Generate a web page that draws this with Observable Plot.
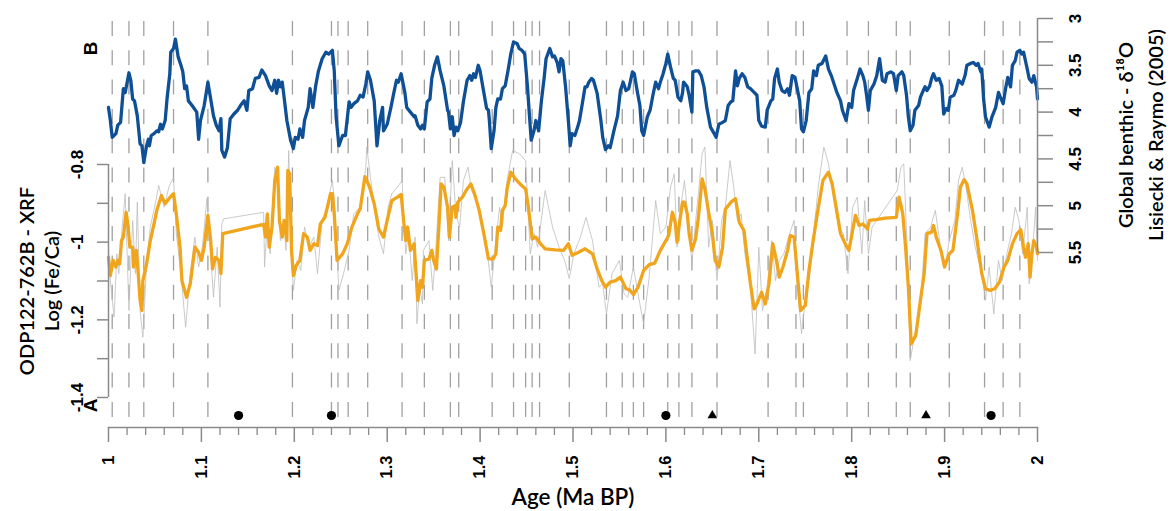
<!DOCTYPE html>
<html><head><meta charset="utf-8">
<script src="https://cdn.jsdelivr.net/npm/d3@7"></script>
<script src="https://cdn.jsdelivr.net/npm/@observablehq/plot@0.6"></script>
<style>
html,body{margin:0;padding:0;background:#fff;}
#chart{position:relative;width:1172px;height:511px;overflow:hidden;}
#chart svg{position:absolute;left:0;top:0;}
</style></head><body><div id="chart"></div>
<script>
// ---------- scales / ticks ----------
const xDomain = [1, 2];
const feDomain = [-1.4, -0.8];
const d18Domain = [3, 5.5];
const xMajorTicks = [1, 1.1, 1.2, 1.3, 1.4, 1.5, 1.6, 1.7, 1.8, 1.9, 2];
const xMajorLabels = ["1", "1.1", "1.2", "1.3", "1.4", "1.5", "1.6", "1.7", "1.8", "1.9", "2"];
const xMinorTicks = [1.02,1.04,1.06,1.08,1.12,1.14,1.16,1.18,1.22,1.24,1.26,1.28,1.32,1.34,1.36,1.38,1.42,1.44,1.46,1.48,1.52,1.54,1.56,1.58,1.62,1.64,1.66,1.68,1.72,1.74,1.76,1.78,1.82,1.84,1.86,1.88,1.92,1.94,1.96,1.98];
const feTicks = [-1.4, -1.3, -1.2, -1.1, -1, -0.9, -0.8];
const feTickLabels = ["-1.4", "", "-1.2", "", "-1", "", "-0.8"];
const d18Ticks = [3, 3.25, 3.5, 3.75, 4, 4.25, 4.5, 4.75, 5, 5.25, 5.5];
const d18TickLabels = ["3", "", "3.5", "", "4", "", "4.5", "", "5", "", "5.5"];

// ---------- annotations ----------
const dashedAges = [1.004,1.022,1.038,1.070,1.107,1.198,1.240,1.247,1.258,1.279,1.316,1.340,1.368,1.377,1.413,1.436,1.449,1.456,1.464,1.496,1.536,1.553,1.565,1.576,1.602,1.614,1.628,1.655,1.710,1.740,1.748,1.795,1.818,1.848,1.863,1.905,1.943,1.963,1.981];
const circleAges = [1.14, 1.24, 1.60, 1.95];
const triangleAges = [1.65, 1.88];

// ---------- B: LR04 benthic d18O ----------
const blueAge = [1.000,1.002,1.004,1.008,1.010,1.013,1.016,1.018,1.022,1.024,1.026,1.028,1.031,1.034,1.036,1.038,1.041,1.043,1.044,1.046,1.049,1.052,1.054,1.056,1.058,1.061,1.063,1.066,1.067,1.070,1.072,1.075,1.078,1.080,1.082,1.084,1.086,1.090,1.095,1.097,1.099,1.103,1.107,1.110,1.113,1.116,1.119,1.121,1.122,1.125,1.128,1.131,1.135,1.139,1.142,1.146,1.149,1.151,1.155,1.158,1.162,1.165,1.169,1.173,1.176,1.179,1.181,1.183,1.185,1.187,1.189,1.192,1.196,1.199,1.201,1.204,1.206,1.209,1.211,1.215,1.217,1.220,1.223,1.226,1.230,1.234,1.237,1.241,1.243,1.245,1.248,1.252,1.255,1.259,1.261,1.264,1.268,1.271,1.274,1.277,1.279,1.282,1.286,1.289,1.292,1.295,1.296,1.300,1.304,1.307,1.310,1.312,1.315,1.319,1.321,1.325,1.329,1.330,1.333,1.336,1.338,1.340,1.343,1.346,1.348,1.351,1.354,1.357,1.361,1.365,1.366,1.368,1.370,1.372,1.374,1.376,1.379,1.382,1.386,1.389,1.391,1.393,1.395,1.398,1.400,1.404,1.407,1.409,1.410,1.412,1.415,1.417,1.419,1.422,1.424,1.427,1.430,1.433,1.436,1.440,1.442,1.445,1.448,1.451,1.453,1.455,1.458,1.460,1.463,1.466,1.469,1.471,1.475,1.478,1.480,1.483,1.485,1.487,1.489,1.492,1.495,1.497,1.499,1.502,1.505,1.507,1.510,1.513,1.515,1.517,1.520,1.522,1.526,1.530,1.532,1.535,1.538,1.540,1.544,1.548,1.551,1.554,1.557,1.560,1.564,1.566,1.569,1.572,1.574,1.576,1.580,1.583,1.586,1.589,1.592,1.594,1.597,1.600,1.602,1.605,1.608,1.610,1.613,1.616,1.618,1.619,1.623,1.625,1.628,1.629,1.632,1.635,1.638,1.641,1.644,1.648,1.652,1.654,1.657,1.661,1.664,1.667,1.670,1.672,1.675,1.677,1.679,1.682,1.685,1.688,1.691,1.695,1.698,1.700,1.703,1.707,1.709,1.713,1.715,1.717,1.720,1.722,1.725,1.728,1.731,1.733,1.736,1.739,1.741,1.744,1.746,1.748,1.751,1.754,1.757,1.759,1.762,1.764,1.768,1.772,1.775,1.778,1.782,1.784,1.788,1.790,1.794,1.797,1.800,1.802,1.806,1.809,1.812,1.814,1.816,1.818,1.820,1.824,1.827,1.830,1.833,1.836,1.838,1.842,1.845,1.848,1.850,1.854,1.856,1.859,1.861,1.863,1.866,1.868,1.872,1.874,1.877,1.879,1.881,1.884,1.886,1.888,1.891,1.894,1.897,1.899,1.902,1.904,1.906,1.910,1.912,1.915,1.919,1.922,1.924,1.928,1.931,1.934,1.936,1.939,1.940,1.942,1.944,1.948,1.951,1.955,1.958,1.960,1.963,1.966,1.968,1.971,1.973,1.976,1.978,1.981,1.983,1.985,1.989,1.991,1.994,1.996,1.999,2.000];
const blueD18 = [3.95,4.09,4.27,4.23,4.14,4.11,3.75,3.79,3.58,3.66,3.86,3.88,4.04,4.34,4.36,4.54,4.36,4.29,4.36,4.25,4.23,4.20,4.21,4.13,4.18,4.09,3.86,3.59,3.36,3.32,3.22,3.41,3.50,3.57,3.75,3.72,3.88,3.93,4.00,4.29,4.09,3.93,3.68,3.86,4.04,4.14,4.20,4.07,4.41,4.48,4.38,4.07,4.02,3.98,3.93,3.88,3.98,3.77,3.75,3.64,3.63,3.55,3.61,3.72,3.77,3.66,3.80,3.66,3.73,3.68,3.84,4.09,4.30,4.39,4.27,4.29,4.18,4.27,4.09,3.95,3.75,3.95,3.72,3.56,3.43,3.36,3.38,3.34,3.56,4.05,4.36,4.25,4.25,3.89,3.95,3.91,3.88,3.82,3.84,3.70,3.57,3.66,3.88,4.36,4.09,3.95,4.20,4.13,3.95,3.80,3.66,3.68,3.59,3.79,3.95,4.00,4.05,4.04,4.14,4.18,4.14,4.18,3.89,3.86,3.64,3.50,3.41,3.56,3.72,3.98,4.00,4.18,4.05,4.25,4.16,4.20,4.11,3.89,3.66,3.61,3.66,3.59,3.63,3.50,3.56,3.79,3.96,3.98,4.09,4.39,4.20,3.95,3.86,3.86,3.75,3.72,3.56,3.38,3.25,3.27,3.32,3.34,3.38,3.73,4.02,4.30,4.20,4.09,4.20,3.88,3.63,3.43,3.32,3.41,3.40,3.47,3.57,3.43,3.45,3.73,4.09,4.36,4.23,4.25,4.16,4.09,3.91,3.73,3.73,3.68,3.64,3.66,3.80,4.09,4.27,4.40,4.36,4.38,4.20,4.04,3.77,3.68,3.77,3.75,3.57,3.59,3.77,3.93,4.20,4.25,4.05,3.98,3.82,3.68,3.75,3.68,3.59,3.48,3.38,3.52,3.64,3.66,3.84,3.88,3.79,3.68,3.73,3.82,4.00,3.57,3.56,3.56,3.61,3.73,3.95,4.16,4.23,4.27,4.13,4.11,4.09,3.93,3.89,3.88,3.56,3.72,3.64,3.59,3.63,3.73,3.75,3.79,3.82,4.09,4.15,4.16,3.98,3.88,3.86,3.64,3.54,3.68,3.77,3.79,3.75,3.82,3.61,3.63,3.73,3.88,4.18,4.21,4.09,3.79,3.75,3.56,3.61,3.50,3.48,3.40,3.54,3.61,3.73,3.79,3.88,3.98,4.09,3.91,3.95,3.77,3.64,3.54,3.61,3.68,3.82,3.98,3.77,3.70,3.61,3.43,3.66,3.68,3.59,3.57,3.59,3.77,3.61,3.57,3.61,3.82,4.05,4.20,4.14,3.98,3.93,3.84,3.77,3.73,3.77,3.72,3.64,3.59,3.66,3.64,3.72,4.02,3.96,3.98,3.84,3.82,3.77,3.66,3.70,3.61,3.50,3.48,3.47,3.50,3.48,3.57,3.54,3.86,4.05,4.16,4.05,3.95,3.79,3.84,3.91,3.73,3.63,3.73,3.50,3.45,3.36,3.34,3.38,3.36,3.54,3.64,3.68,3.61,3.73,3.86];

// ---------- A: ODP 762B Log(Fe/Ca), smoothed ----------
const smoothAge = [1.000,1.002,1.005,1.008,1.010,1.012,1.014,1.016,1.019,1.021,1.023,1.026,1.027,1.030,1.032,1.034,1.036,1.037,1.041,1.045,1.049,1.052,1.057,1.061,1.065,1.070,1.073,1.077,1.079,1.084,1.088,1.093,1.097,1.100,1.103,1.107,1.110,1.112,1.115,1.119,1.121,1.123,1.167,1.169,1.171,1.173,1.176,1.179,1.182,1.184,1.187,1.189,1.192,1.193,1.195,1.197,1.199,1.202,1.206,1.210,1.214,1.217,1.221,1.225,1.228,1.233,1.236,1.239,1.241,1.243,1.246,1.252,1.257,1.262,1.268,1.271,1.276,1.281,1.286,1.291,1.296,1.300,1.305,1.311,1.315,1.318,1.320,1.322,1.325,1.329,1.330,1.333,1.336,1.338,1.340,1.345,1.348,1.350,1.353,1.356,1.358,1.361,1.365,1.367,1.370,1.373,1.374,1.376,1.381,1.385,1.390,1.394,1.399,1.404,1.409,1.414,1.417,1.419,1.422,1.424,1.427,1.429,1.433,1.438,1.443,1.449,1.452,1.456,1.460,1.465,1.470,1.481,1.490,1.495,1.499,1.506,1.513,1.521,1.526,1.531,1.535,1.540,1.546,1.551,1.557,1.561,1.565,1.570,1.576,1.582,1.588,1.594,1.600,1.603,1.607,1.610,1.612,1.615,1.618,1.620,1.623,1.625,1.628,1.632,1.635,1.639,1.642,1.646,1.650,1.653,1.657,1.661,1.664,1.670,1.675,1.679,1.684,1.687,1.691,1.695,1.698,1.703,1.707,1.711,1.715,1.719,1.722,1.726,1.731,1.734,1.738,1.741,1.745,1.750,1.754,1.758,1.763,1.769,1.775,1.779,1.782,1.788,1.793,1.797,1.801,1.804,1.808,1.812,1.817,1.819,1.826,1.836,1.848,1.851,1.855,1.858,1.861,1.864,1.869,1.873,1.878,1.881,1.886,1.888,1.891,1.896,1.900,1.905,1.909,1.914,1.917,1.921,1.924,1.930,1.935,1.940,1.944,1.949,1.954,1.959,1.964,1.968,1.973,1.978,1.982,1.985,1.987,1.990,1.992,1.994,1.996,1.999,2.000];
const smoothFe = [-1.039,-1.086,-1.047,-1.064,-1.047,-1.056,-0.996,-0.987,-0.923,-0.957,-1.013,-1.013,-1.064,-1.021,-1.081,-1.150,-1.176,-1.099,-1.056,-0.996,-0.953,-0.918,-0.880,-0.901,-0.888,-0.875,-0.927,-1.013,-1.099,-1.142,-1.107,-1.013,-1.026,-1.047,-1.013,-0.931,-0.996,-1.069,-1.039,-1.047,-1.081,-0.978,-0.954,-0.987,-0.927,-1.013,-0.961,-0.841,-0.807,-0.944,-0.987,-0.944,-0.996,-0.815,-0.824,-1.021,-1.086,-1.060,-1.047,-0.978,-0.987,-1.021,-1.004,-1.009,-0.953,-0.936,-0.906,-0.875,-0.875,-0.927,-1.047,-1.030,-1.004,-0.961,-0.927,-0.914,-0.831,-0.858,-0.901,-0.966,-0.987,-0.944,-0.893,-0.884,-0.877,-0.953,-0.996,-0.961,-1.021,-1.004,-1.043,-1.150,-1.099,-1.116,-1.047,-1.043,-1.021,-1.047,-1.069,-0.944,-0.850,-0.858,-0.910,-0.987,-0.910,-0.906,-0.936,-0.897,-0.884,-0.867,-0.850,-0.875,-0.918,-0.978,-1.043,-1.043,-1.030,-0.961,-0.970,-0.918,-0.906,-0.863,-0.820,-0.837,-0.850,-0.863,-0.910,-0.991,-0.987,-1.004,-1.017,-1.020,-1.021,-1.004,-1.034,-1.026,-1.017,-1.030,-1.069,-1.099,-1.116,-1.103,-1.099,-1.090,-1.120,-1.123,-1.135,-1.116,-1.073,-1.058,-1.054,-1.021,-0.996,-0.983,-0.923,-0.949,-1.000,-0.944,-0.897,-0.897,-0.927,-0.978,-1.021,-0.991,-0.936,-0.837,-0.863,-0.923,-0.978,-1.047,-1.064,-1.013,-0.915,-0.897,-0.888,-0.949,-0.970,-1.030,-1.107,-1.172,-1.159,-1.129,-1.159,-1.107,-1.004,-1.047,-1.090,-1.064,-1.021,-0.983,-0.987,-1.069,-1.176,-1.163,-1.073,-1.004,-0.927,-0.841,-0.820,-0.850,-0.893,-0.978,-1.004,-1.021,-0.970,-0.931,-0.957,-0.953,-0.966,-0.944,-0.942,-0.938,-0.936,-0.884,-0.927,-1.013,-1.116,-1.262,-1.240,-1.167,-1.081,-0.978,-0.974,-0.957,-0.987,-1.021,-1.064,-1.030,-1.021,-0.927,-0.858,-0.839,-0.850,-0.918,-0.996,-1.081,-1.120,-1.124,-1.120,-1.103,-1.064,-1.047,-1.004,-0.978,-0.968,-1.013,-1.039,-1.004,-1.090,-1.030,-0.996,-1.013,-1.030];

// ---------- A: ODP 762B Log(Fe/Ca), raw ----------
const rawAge = [1.000,1.002,1.006,1.009,1.011,1.015,1.018,1.022,1.026,1.029,1.031,1.034,1.037,1.041,1.045,1.051,1.054,1.060,1.065,1.070,1.073,1.078,1.083,1.088,1.093,1.097,1.101,1.106,1.110,1.113,1.117,1.120,1.122,1.124,1.167,1.168,1.171,1.174,1.179,1.182,1.185,1.189,1.191,1.194,1.197,1.199,1.203,1.207,1.211,1.216,1.221,1.225,1.230,1.235,1.241,1.243,1.248,1.253,1.259,1.264,1.271,1.277,1.278,1.282,1.286,1.291,1.296,1.301,1.305,1.311,1.316,1.320,1.323,1.327,1.330,1.332,1.335,1.338,1.339,1.345,1.349,1.352,1.357,1.362,1.366,1.370,1.374,1.378,1.382,1.387,1.391,1.397,1.402,1.408,1.412,1.417,1.421,1.424,1.429,1.435,1.442,1.449,1.454,1.458,1.462,1.470,1.478,1.485,1.491,1.496,1.501,1.508,1.514,1.521,1.528,1.532,1.536,1.542,1.550,1.555,1.559,1.565,1.570,1.576,1.582,1.589,1.594,1.600,1.605,1.609,1.612,1.616,1.620,1.624,1.628,1.632,1.635,1.639,1.642,1.646,1.650,1.655,1.660,1.664,1.669,1.673,1.677,1.681,1.685,1.691,1.696,1.700,1.704,1.709,1.714,1.718,1.722,1.727,1.732,1.738,1.741,1.746,1.750,1.755,1.759,1.764,1.770,1.775,1.780,1.786,1.791,1.796,1.801,1.806,1.811,1.814,1.818,1.822,1.849,1.853,1.856,1.860,1.863,1.868,1.874,1.879,1.885,1.890,1.896,1.901,1.905,1.911,1.915,1.919,1.923,1.928,1.933,1.940,1.944,1.948,1.953,1.958,1.962,1.967,1.972,1.976,1.980,1.984,1.989,1.991,1.995,1.998,2.000];
const rawFe = [-1.021,-1.099,-1.193,-1.030,-1.081,-0.953,-0.875,-1.176,-0.944,-1.081,-0.897,-1.176,-1.245,-1.056,-0.961,-0.893,-0.854,-0.910,-0.858,-0.833,-0.978,-1.081,-1.219,-1.081,-0.987,-1.064,-1.013,-0.888,-1.030,-1.142,-1.013,-1.167,-0.953,-0.940,-0.923,-1.064,-0.944,-1.030,-0.807,-0.833,-0.996,-0.944,-1.021,-0.764,-1.030,-1.124,-1.047,-1.073,-0.961,-1.013,-0.987,-1.081,-0.944,-0.910,-0.841,-0.893,-1.124,-1.081,-1.021,-0.927,-0.910,-0.807,-0.755,-0.833,-0.910,-0.987,-1.030,-0.910,-0.875,-0.858,-0.841,-1.030,-0.978,-1.099,-0.987,-1.210,-1.116,-1.159,-1.021,-0.996,-1.124,-1.030,-0.833,-0.833,-0.996,-0.790,-0.927,-0.961,-0.841,-0.807,-0.867,-0.901,-0.961,-1.030,-1.116,-0.996,-0.910,-0.961,-0.841,-0.764,-0.772,-0.790,-1.030,-0.978,-1.013,-0.867,-0.961,-1.013,-1.047,-1.094,-1.030,-0.987,-0.936,-0.996,-1.116,-1.107,-1.185,-1.081,-1.047,-1.133,-1.142,-1.064,-1.133,-1.210,-1.090,-0.893,-0.978,-0.961,-0.858,-0.824,-1.013,-0.910,-0.841,-0.944,-1.056,-0.944,-0.875,-0.772,-0.755,-1.013,-0.944,-1.099,-0.944,-0.910,-0.790,-0.858,-0.944,-0.927,-1.030,-1.116,-1.288,-1.013,-1.176,-1.116,-0.996,-1.099,-1.047,-1.030,-0.987,-0.944,-1.099,-1.236,-1.150,-1.081,-0.978,-0.858,-0.755,-0.798,-0.875,-0.961,-0.978,-1.081,-0.910,-0.884,-1.030,-0.893,-1.030,-0.961,-0.867,-0.807,-0.798,-1.030,-1.305,-1.236,-1.167,-0.978,-0.961,-0.918,-1.021,-1.056,-0.996,-0.944,-0.841,-0.807,-0.858,-0.944,-1.013,-1.081,-1.150,-1.064,-1.185,-1.047,-1.099,-1.030,-0.978,-0.910,-0.944,-1.030,-0.910,-1.107,-1.013,-0.910,-1.047];

// ---------- build tables ----------
const blue = blueAge.map((a, i) => ({age: a, v: blueD18[i]}));
const smooth = smoothAge.map((a, i) => ({age: a, v: smoothFe[i]}));
const raw = rawAge.map((a, i) => ({age: a, v: rawFe[i]}));
const xLabel = new Map(xMajorTicks.map((t, i) => [t, xMajorLabels[i]]));
const feLabel = new Map(feTicks.map((t, i) => [t, feTickLabels[i]]));
const d18Label = new Map(d18Ticks.map((t, i) => [t, d18TickLabels[i]]));

const W = 1172, H = 511;
const M = {marginLeft: 108, marginRight: 135, marginTop: 18, marginBottom: 84};
const tickFont = "Liberation Sans, Arial, sans-serif";
const titleFont = "Lato, 'Noto Sans', sans-serif";
const axisGray = "#8a8a8a";

const plotA = Plot.plot({
  width: W, height: H, ...M,
  x: {domain: xDomain},
  y: {domain: feDomain, range: [397, 164]},
  style: {background: "transparent", fontFamily: tickFont, overflow: "visible"},
  marks: [
    Plot.ruleX(dashedAges, {stroke: "#a0a0a0", strokeWidth: 1.3, strokeDasharray: "15,14.3", insetTop: 3, insetBottom: 7}),
    Plot.line(raw, {x: "age", y: "v", stroke: "#bdbdbd", strokeWidth: 0.8}),
    Plot.line(smooth, {x: "age", y: "v", stroke: "#f0a51c", strokeWidth: 3.3, strokeLinejoin: "round"}),
    Plot.dot(circleAges, {x: d => d, frameAnchor: "bottom", dy: -12, r: 4.6, fill: "black", stroke: "none"}),
    Plot.dot(triangleAges, {x: d => d, frameAnchor: "bottom", dy: -12, r: 3.6, symbol: "triangle", fill: "black", stroke: "none"}),
    // x axis
    Plot.frame({anchor: "bottom", stroke: axisGray, strokeWidth: 1.5}),
    Plot.axisX({ticks: xMinorTicks, tickSize: 8, text: null, stroke: axisGray, strokeWidth: 1.3, label: null}),
    Plot.axisX({ticks: xMajorTicks, tickSize: 15, text: null, stroke: axisGray, strokeWidth: 1.5, label: null}),
    Plot.axisX({ticks: xMajorTicks, tickSize: 0, tickPadding: 28, tickRotate: -90, textAnchor: "end", lineAnchor: "middle",
      tickFormat: d => xLabel.get(d), fontSize: 16.5, fontWeight: "bold", fill: "black", label: null}),
    // left y axis
    Plot.ruleX([xDomain[0]], {y1: () => feDomain[0], y2: () => feDomain[1], stroke: axisGray, strokeWidth: 1.5}),
    Plot.axisY({ticks: feTicks, tickSize: 11, text: null, stroke: axisGray, strokeWidth: 1.5, label: null}),
    Plot.axisY({ticks: feTicks, tickSize: 0, tickPadding: 31, tickRotate: -90, textAnchor: "middle", lineAnchor: "middle",
      tickFormat: d => feLabel.get(d), fontSize: 17, fontWeight: "bold", fill: "black", label: null}),
    // labels
    Plot.text(["B"], {frameAnchor: "top-left", dx: -18, dy: 30, rotate: -90, textAnchor: "middle", lineAnchor: "middle",
      fontSize: 19, fontWeight: "bold", fontFamily: tickFont}),
    Plot.text(["A"], {frameAnchor: "bottom-left", dx: -18, dy: -22, rotate: -90, textAnchor: "middle", lineAnchor: "middle",
      fontSize: 19, fontWeight: "bold", fontFamily: tickFont}),
    Plot.text(["ODP122-762B - XRF\nLog (Fe/Ca)"], {frameAnchor: "left", dx: -70, dy: 58, rotate: -90, textAnchor: "middle",
      lineAnchor: "middle", lineHeight: 1.25, fontSize: 20, fontWeight: 600, fontFamily: titleFont}),
    Plot.text(["Age (Ma BP)"], {frameAnchor: "bottom", dy: 70, textAnchor: "middle", lineAnchor: "middle",
      fontSize: 22.5, fontWeight: 600, fontFamily: titleFont})
  ]
});

const plotB = Plot.plot({
  width: W, height: H, ...M,
  x: {domain: xDomain, axis: null},
  y: {domain: d18Domain, range: [18, 252]},
  style: {background: "transparent", fontFamily: tickFont, overflow: "visible"},
  marks: [
    Plot.line(blue, {x: "age", y: "v", stroke: "#0f4f96", strokeWidth: 3.3, strokeLinejoin: "round"}),
    Plot.ruleX([xDomain[1]], {y1: () => d18Domain[0], y2: () => d18Domain[1], stroke: axisGray, strokeWidth: 1.5}),
    Plot.axisY({anchor: "right", ticks: d18Ticks, tickSize: 15, text: null, stroke: axisGray, strokeWidth: 1.5, label: null}),
    Plot.axisY({anchor: "right", ticks: d18Ticks, tickSize: 0, tickPadding: 38, tickRotate: -90, textAnchor: "middle", lineAnchor: "middle",
      tickFormat: d => d18Label.get(d), fontSize: 17, fontWeight: "bold", fill: "black", label: null}),
    Plot.text(["Global benthic - δ¹⁸O\nLisiecki & Raymo (2005)"], {frameAnchor: "right", dx: 101, dy: -88, rotate: -90,
      textAnchor: "middle", lineAnchor: "middle", lineHeight: 1.5, fontSize: 20, fontWeight: 600, fontFamily: titleFont})
  ]
});

const host = document.getElementById("chart");
host.appendChild(plotA);
host.appendChild(plotB);
</script>
</body></html>
